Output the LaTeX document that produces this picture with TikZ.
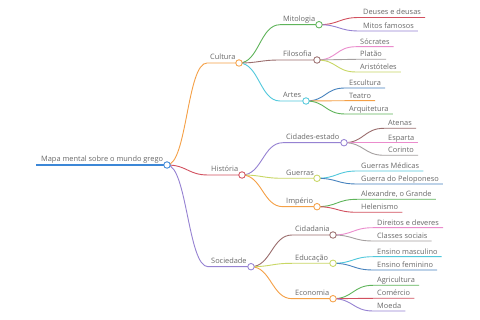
\documentclass[tikz,border=0pt]{standalone}
\usepackage{fontspec}
\setmainfont{Open Sans}
\usetikzlibrary{calc,backgrounds}
\definecolor{cBlue}{RGB}{60,135,215}
\definecolor{cOrange}{RGB}{245,160,70}
\definecolor{cGreen}{RGB}{95,180,90}
\definecolor{cRed}{RGB}{210,80,95}
\definecolor{cPurple}{RGB}{150,130,210}
\definecolor{cBrown}{RGB}{155,110,110}
\definecolor{cPink}{RGB}{235,140,205}
\definecolor{cGray}{RGB}{165,160,160}
\definecolor{cLime}{RGB}{200,215,100}
\definecolor{cCyan}{RGB}{80,200,220}
\definecolor{cSteel}{RGB}{70,130,190}
\definecolor{cText}{RGB}{105,105,105}
\tikzset{
  mmtext/.style={inner sep=0pt, text=cText, font=\fontsize{7.4}{8}\selectfont},
  mmdot/.style={circle, fill=white, line width=0.85pt, minimum size=6.5pt, inner sep=0pt},
  mmline/.style={line width=0.9pt},
  mmroot/.style={line width=1.3pt, draw=cBlue}
}
\newcommand\mmInner[7]{%
  \node[mmtext, anchor=base west] (#1t) at (#5,#4-3) {#7};
  \coordinate (#1s) at (#5-3,#4);
  \node[mmdot, draw=#3] (#1) at (#6,#4) {};
  \begin{pgfonlayer}{background}
    \draw[mmline, #3] (#2.center) .. controls +(20,0) and +(-20,0) .. (#1s) -- (#1.center);
  \end{pgfonlayer}}
\newcommand\mmLeaf[6]{%
  \node[mmtext, anchor=base west] (#1) at (#5,#4-2.5) {#6};
  \coordinate (#1s) at (#5-4,#4);
  \coordinate (#1e) at ($(#1.east |- #1s)+(4,0)$);
  \begin{pgfonlayer}{background}
    \draw[mmline, #3] (#2.center) .. controls +(20,0) and +(-20,0) .. (#1s) -- (#1e);
  \end{pgfonlayer}}
\begin{document}
\begin{tikzpicture}[x=1pt,y=-1pt]
\begin{pgfonlayer}{background}
\fill[white] (0,0) rectangle (480,320);
\end{pgfonlayer}
\useasboundingbox (0,0) rectangle (480,320);
% root
\node[mmtext, anchor=base west] (roott) at (41,162) {Mapa mental sobre o mundo grego};
\coordinate (rootstart) at (36,165);
\node[mmdot, draw=cBlue] (root) at (167,165) {};
\begin{pgfonlayer}{background}
\draw[mmroot] (rootstart) -- (root.center);
\end{pgfonlayer}
% level 1
\mmInner{cul}{root}{cOrange}{63}{210}{239}{Cultura}
\mmInner{his}{root}{cRed}{175}{211}{242}{História}
\mmInner{soc}{root}{cPurple}{266.7}{211}{251}{Sociedade}
% level 2
\mmInner{mit}{cul}{cGreen}{24.7}{283}{319}{Mitologia}
\mmInner{fil}{cul}{cBrown}{60}{283}{317}{Filosofia}
\mmInner{art}{cul}{cCyan}{101}{283}{306}{Artes}
\mmInner{cid}{his}{cPurple}{142.7}{286}{344}{Cidades-estado}
\mmInner{gue}{his}{cLime}{178.3}{286}{317}{Guerras}
\mmInner{imp}{his}{cOrange}{206.7}{286}{317}{Império}
\mmInner{cda}{soc}{cBrown}{235}{295}{333}{Cidadania}
\mmInner{edu}{soc}{cLime}{263.3}{295}{333}{Educação}
\mmInner{eco}{soc}{cOrange}{298.7}{295}{333}{Economia}
% leaves
\mmLeaf{l1}{mit}{cRed}{17.5}{363}{Deuses e deusas}
\mmLeaf{l2}{mit}{cPurple}{31}{363}{Mitos famosos}
\mmLeaf{l3}{fil}{cPink}{46.7}{360}{Sócrates}
\mmLeaf{l4}{fil}{cGray}{59.3}{360}{Platão}
\mmLeaf{l5}{fil}{cLime}{72}{360}{Aristóteles}
\mmLeaf{l6}{art}{cSteel}{88}{349}{Escultura}
\mmLeaf{l7}{art}{cOrange}{100.7}{349}{Teatro}
\mmLeaf{l8}{art}{cGreen}{114}{349}{Arquitetura}
\mmLeaf{l9}{cid}{cBrown}{128.3}{388}{Atenas}
\mmLeaf{l10}{cid}{cPink}{142.7}{388}{Esparta}
\mmLeaf{l11}{cid}{cGray}{155.3}{388}{Corinto}
\mmLeaf{l12}{gue}{cCyan}{171}{361}{Guerras Médicas}
\mmLeaf{l13}{gue}{cSteel}{184}{361}{Guerra do Peloponeso}
\mmLeaf{l14}{imp}{cGreen}{199.3}{361}{Alexandre, o Grande}
\mmLeaf{l15}{imp}{cRed}{212.3}{361}{Helenismo}
\mmLeaf{l16}{cda}{cPink}{227.7}{377}{Direitos e deveres}
\mmLeaf{l17}{cda}{cGray}{241}{377}{Classes sociais}
\mmLeaf{l18}{edu}{cCyan}{256.7}{377}{Ensino masculino}
\mmLeaf{l19}{edu}{cSteel}{270}{377}{Ensino feminino}
\mmLeaf{l20}{eco}{cGreen}{285.3}{377}{Agricultura}
\mmLeaf{l21}{eco}{cRed}{298.3}{377}{Comércio}
\mmLeaf{l22}{eco}{cPurple}{311}{377}{Moeda}
\end{tikzpicture}
\end{document}
